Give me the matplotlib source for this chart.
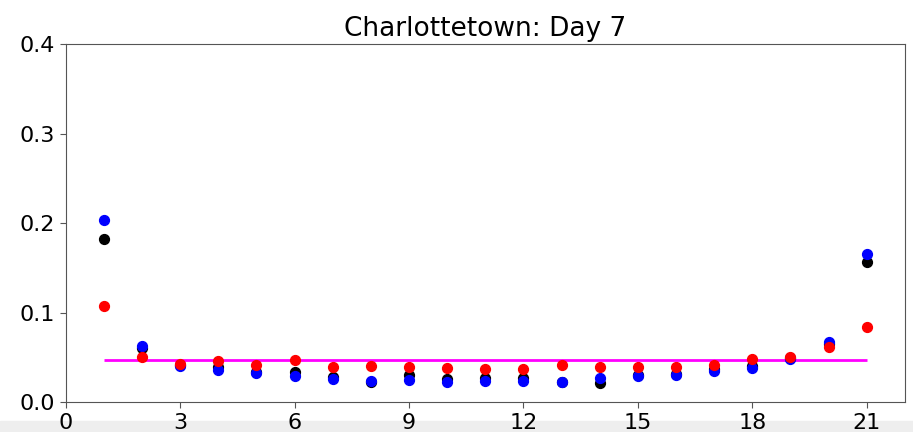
import matplotlib
matplotlib.use("Agg")
import matplotlib.pyplot as plt
import numpy as np

days = list(range(1, 22))
black_vals = [0.182, 0.060, 0.042, 0.039, 0.034, 0.034, 0.028, 0.023, 0.030, 0.026, 0.027,
              0.027, 0.023, 0.021, 0.030, 0.032, 0.037, 0.040, 0.049, 0.065, 0.157]
blue_vals = [0.203, 0.063, 0.040, 0.036, 0.033, 0.029, 0.026, 0.024, 0.025, 0.022, 0.024,
             0.024, 0.023, 0.027, 0.029, 0.030, 0.035, 0.038, 0.048, 0.067, 0.166]
red_vals = [0.107, 0.051, 0.043, 0.046, 0.042, 0.047, 0.039, 0.040, 0.039, 0.038, 0.037,
            0.037, 0.042, 0.039, 0.039, 0.039, 0.042, 0.048, 0.051, 0.062, 0.084]
uniform_level = 1.0 / 21
title = "Charlottetown: Day 7"
xticks = [0, 3, 6, 9, 12, 15, 18, 21]
yticks = [0.0, 0.1, 0.2, 0.3, 0.4]

fig = plt.figure(figsize=(9.13, 4.32), dpi=100)
ax = fig.add_axes([0.072, 0.069, 0.919, 0.829])

ax.hlines(uniform_level, days[0], days[-1], color="magenta", lw=2, zorder=1)
ax.scatter(days, black_vals, color="black", s=50, zorder=2)
ax.scatter(days, blue_vals, color="blue", s=50, zorder=3)
ax.scatter(days, red_vals, color="red", s=50, zorder=4)

ax.set_xlim(0, 22)
ax.set_ylim(0, 0.4)
ax.set_xticks(xticks)
ax.set_yticks(yticks)
ax.set_yticklabels([f"{v:.1f}" for v in yticks])
ax.tick_params(labelsize=16, length=4, color="#555555")
for s in ax.spines.values():
    s.set_color("#555555")
ax.set_title(title, fontsize=19)

# light gray strip at bottom of screenshot
fig.patches.append(plt.Rectangle((0, 0), 1, 0.025, transform=fig.transFigure,
                                 color="#eeeeee", zorder=-1))

fig.savefig("out.png", dpi=100)
